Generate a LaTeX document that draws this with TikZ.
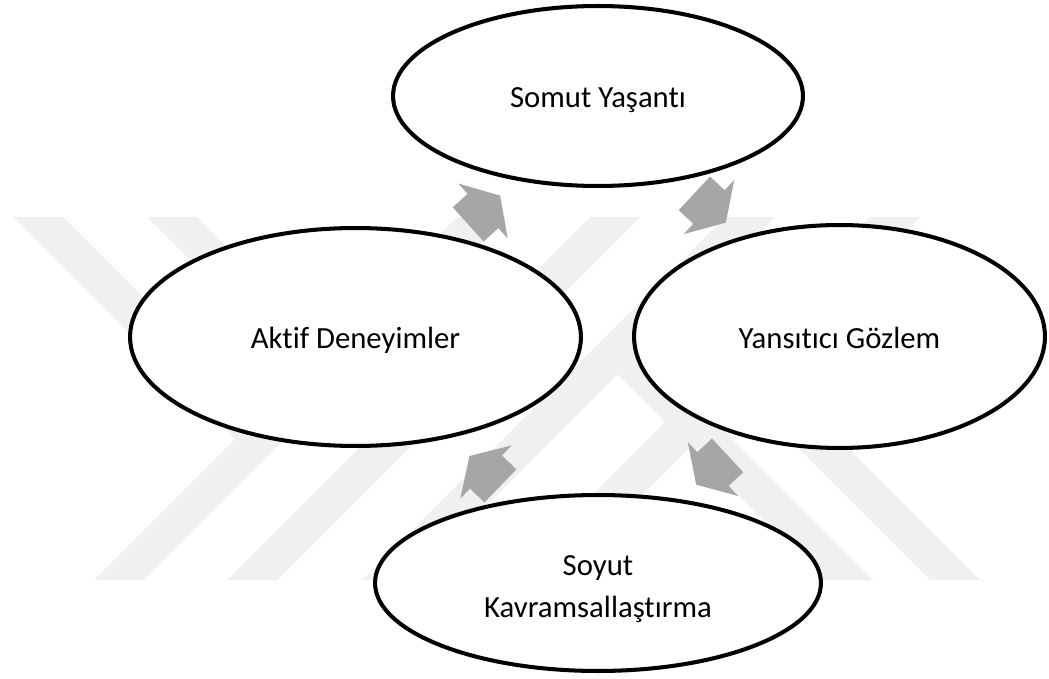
\documentclass[tikz,border=0pt]{standalone}
\usepackage{fontspec}
\setmainfont{Carlito}[Ligatures=NoCommon]
\usepackage{tikz}
\usetikzlibrary{shapes.geometric}
\definecolor{arrowgray}{RGB}{166,166,166}
\definecolor{markgray}{RGB}{240,240,240}
\tikzset{stage/.style = {shape=ellipse, draw, line width=2.3pt, fill=white,
inner sep=0pt, align=center, font=\fontsize{17.5}{24}\selectfont,
text height=0.78cm, text depth=0.3cm}}
\tikzset{pics/cycarrow/.style = {code = {
\fill[arrowgray] (-20,-23) -- (0,-23) -- (0,-37) -- (23,0) -- (0,37) -- (0,23) -- (-20,23) -- cycle;}}}
\tikzset{wmark/.style = {fill=markgray, draw=none}}

\begin{document}
\begin{tikzpicture}[x=0.02cm, y=-0.02cm]
                \useasboundingbox (0,0) rectangle (1049,679);

                % faint stripes behind the cycle
                \foreach \t in {457,590,725,870}
                    \fill[wmark] (\t,217) -- (\t+50,217) -- (\t-313,580) -- (\t-363,580) -- cycle;
                \foreach \t/\y in {13/439,147/438.5}
                    \fill[wmark] (\t,217) -- (\t+50,217) -- (\t+\y-167,\y) -- (\t+\y-217,\y) -- cycle;
                \foreach \t/\y in {460/349.5,567/368.5}
                    \fill[wmark] (\t+\y-217,\y) -- (\t+\y-167,\y) -- (\t+413,580) -- (\t+363,580) -- cycle;

                \node[stage, minimum width=8.2cm, minimum height=3.6cm] (SY) at (598,96) {Somut Yaşantı};
                \node[stage, minimum width=8.22cm, minimum height=4.46cm] (YG) at (839.5,336.5) {Yansıtıcı Gözlem};
                \node[stage, minimum width=8.92cm, minimum height=3.52cm, text height=1.7cm] (SK) at (598,583) {Soyut\\Kavramsallaştırma};
                \node[stage, minimum width=9.02cm, minimum height=4.36cm] (AD) at (355.5,337) {Aktif Deneyimler};

                \pic[rotate=42] (a1) at (483,211) {cycarrow};
                \pic[rotate=-43] (a2) at (709,207) {cycarrow};
                \pic[rotate=-137] (a3) at (713,469) {cycarrow};
                \pic[rotate=136] (a4) at (486,472) {cycarrow};
            \end{tikzpicture}
\end{document}
